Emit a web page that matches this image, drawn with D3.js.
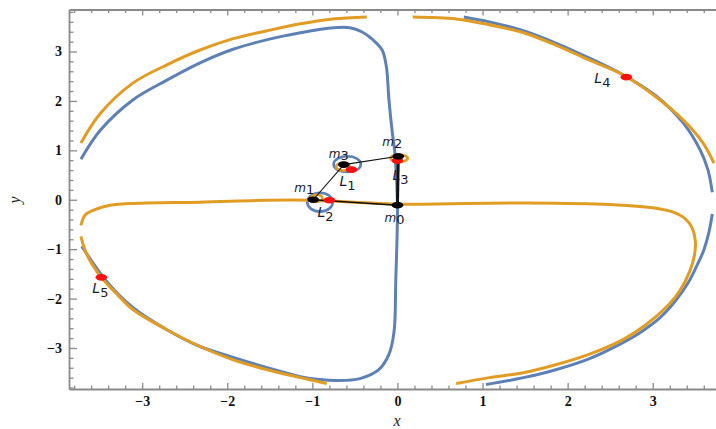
<!DOCTYPE html>
<html><head><meta charset="utf-8">
<script src="https://cdn.jsdelivr.net/npm/d3@7"></script>
<style>body{margin:0;background:#fff}svg{display:block}</style>
</head><body><svg id="chart" width="716" height="429"></svg>
<script>
// ---- data (x, y) ----
const xTicks = [-3, -2, -1, 0, 1, 2, 3];
const yTicks = [-3, -2, -1, 0, 1, 2, 3];

// blue zero-velocity curve: outer left arc, down through the centre, bottom-left arc
const blueOuter = [
  [-3.72,0.82],[-3.49,1.41],[-3.11,2.02],[-2.71,2.42],[-2.32,2.77],[-1.94,3.04],[-1.53,3.24],
  [-1.14,3.38],[-0.75,3.48],[-0.56,3.48],[-0.42,3.40],[-0.29,3.24],[-0.18,3.03],[-0.13,2.69],
  [-0.10,2.02],[-0.06,1.35],[-0.03,0.94],[0.0,-0.07],[-0.02,-1.65],[-0.04,-2.67],[-0.10,-3.13],
  [-0.22,-3.44],[-0.44,-3.62],[-0.71,-3.66],[-0.91,-3.64],[-1.14,-3.58],[-1.53,-3.40],
  [-1.93,-3.19],[-2.32,-2.97],[-2.71,-2.63],[-3.11,-2.18],[-3.41,-1.67],[-3.71,-0.94]
];
// blue right arc, upper and lower parts (the curve leaves the frame between them)
const blueRightUpper = [
  [0.78,3.70],[1.08,3.60],[1.48,3.42],[1.86,3.17],[2.25,2.87],[2.65,2.53],[3.04,2.10],
  [3.36,1.55],[3.56,1.00],[3.65,0.60],[3.70,0.15]
];
const blueRightLower = [
  [3.70,-0.29],[3.66,-0.66],[3.60,-1.02],[3.52,-1.33],[3.42,-1.67],[3.27,-2.04],[3.09,-2.38],
  [2.85,-2.69],[2.65,-2.89],[2.25,-3.22],[1.86,-3.44],[1.48,-3.60],[1.04,-3.74]
];
// orange curves
const orangeTopLeft = [
  [-3.72,1.15],[-3.49,1.75],[-3.11,2.36],[-2.71,2.73],[-2.32,3.03],[-1.93,3.26],
  [-1.53,3.42],[-1.14,3.56],[-0.76,3.66],[-0.36,3.70]
];
const orangeTopRight = [
  [0.18,3.70],[0.69,3.66],[1.08,3.54],[1.48,3.38],[1.86,3.13],[2.25,2.83],[2.65,2.53],
  [3.04,2.08],[3.36,1.61],[3.59,1.15],[3.72,0.74]
];
const orangeMiddle = [
  [-3.72,-0.52],[-3.67,-0.31],[-3.57,-0.21],[-3.38,-0.11],[-3.02,-0.07],[-2.32,-0.05],
  [-1.53,-0.01],[-1.03,-0.01],[-0.50,-0.05],[0.0,-0.09],[0.30,-0.09],[1.08,-0.07],[1.86,-0.07],
  [2.65,-0.11],[3.04,-0.17],[3.24,-0.25],[3.38,-0.38],[3.46,-0.56],[3.50,-0.82],[3.49,-1.13],
  [3.43,-1.47],[3.32,-1.84],[3.19,-2.12],[2.92,-2.53],[2.65,-2.83],[2.25,-3.13],[1.86,-3.34],
  [1.48,-3.50],[1.08,-3.60],[0.69,-3.72]
];
const orangeBottomLeft = [
  [-3.72,-0.74],[-3.65,-1.11],[-3.49,-1.55],[-3.29,-1.92],[-3.11,-2.22],[-2.71,-2.63],
  [-2.32,-2.97],[-1.93,-3.24],[-1.53,-3.44],[-1.14,-3.60],[-0.83,-3.72]
];
// small closed loops around the primaries: centre and radii
const blueLoops = [
  { cx: -0.59, cy: 0.72, rx: 0.16, ry: 0.16 },
  { cx: -0.91, cy: -0.05, rx: 0.15, ry: 0.19 }
];
const orangeLoops = [
  { cx: 0.02, cy: 0.84, rx: 0.10, ry: 0.07 },
  { cx: -0.64, cy: 0.67, rx: 0.08, ry: 0.08 },
  { cx: -0.95, cy: 0.03, rx: 0.07, ry: 0.07 }
];
// primaries and equilibrium points
const masses = [
  { id: "0", x: 0.0, y: -0.11 },
  { id: "1", x: -0.99, y: 0.0 },
  { id: "2", x: 0.01, y: 0.88 },
  { id: "3", x: -0.63, y: 0.71 }
];
const libPoints = [
  { id: "1", x: -0.54, y: 0.61 },
  { id: "2", x: -0.80, y: -0.01 },
  { id: "3", x: 0.0, y: 0.79 },
  { id: "4", x: 2.69, y: 2.48 },
  { id: "5", x: -3.48, y: -1.57 }
];
const links = [["1","0"],["1","3"],["3","2"],["2","0"]];

(function draw() {
  const svg = d3.select("#chart");
  const pL = 69, pR = 725.9, pT = 9.5, pB = 389;
  const x = d3.scaleLinear().domain([-3.86, 3.86]).range([pL, pR]);
  const y = d3.scaleLinear().domain([-3.83, 3.85]).range([pB, pT]);
  const blue = "#5e81b5", orange = "#e19c24";

  svg.append("defs").append("clipPath").attr("id", "plot")
    .append("rect").attr("x", pL).attr("y", pT)
    .attr("width", pR - pL).attr("height", pB - pT);

  const minorX = d3.range(-3.8, 3.81, 0.2).map(v => +v.toFixed(1)).filter(v => !xTicks.includes(v));
  const minorY = d3.range(-3.8, 3.81, 0.2).map(v => +v.toFixed(1)).filter(v => !yTicks.includes(v));
  const fmt = v => (v < 0 ? "\u2212" + Math.abs(v) : String(v));

  function styleAxis(g) {
    g.selectAll("path.domain").attr("stroke", "#8a8a8a").attr("stroke-width", 1.8);
    g.selectAll(".tick line").attr("stroke", "#8a8a8a").attr("stroke-width", 1.3);
    g.selectAll("text").attr("fill", "#111").attr("font-family", "Liberation Serif, serif")
      .attr("font-weight", "bold").attr("font-size", 14);
  }

  // bottom axis
  svg.append("g").attr("transform", `translate(0,${pB})`)
    .call(d3.axisBottom(x).tickValues(xTicks).tickFormat(fmt).tickSize(-6).tickSizeOuter(0).tickPadding(7))
    .call(styleAxis);
  svg.append("g").attr("transform", `translate(0,${pB})`)
    .call(d3.axisBottom(x).tickValues(minorX).tickFormat("").tickSize(-3.5).tickSizeOuter(0))
    .call(g => g.select("path.domain").remove()).call(styleAxis);
  // top frame
  svg.append("g").attr("transform", `translate(0,${pT})`)
    .call(d3.axisTop(x).tickValues(xTicks).tickFormat("").tickSize(-6).tickSizeOuter(0))
    .call(styleAxis);
  svg.append("g").attr("transform", `translate(0,${pT})`)
    .call(d3.axisTop(x).tickValues(minorX).tickFormat("").tickSize(-3.5).tickSizeOuter(0))
    .call(g => g.select("path.domain").remove()).call(styleAxis);
  // left axis
  svg.append("g").attr("transform", `translate(${pL},0)`)
    .call(d3.axisLeft(y).tickValues(yTicks).tickFormat(fmt).tickSize(-8).tickSizeOuter(0).tickPadding(7))
    .call(styleAxis);
  svg.append("g").attr("transform", `translate(${pL},0)`)
    .call(d3.axisLeft(y).tickValues(minorY).tickFormat("").tickSize(-4.5).tickSizeOuter(0))
    .call(g => g.select("path.domain").remove()).call(styleAxis);

  // axis titles
  svg.append("text").attr("x", 397).attr("y", 426).attr("text-anchor", "middle")
    .attr("font-family", "Liberation Serif, serif").attr("font-style", "italic")
    .attr("font-size", 16).attr("fill", "#222").text("x");
  svg.append("text").attr("transform", "translate(20,200) rotate(-90)").attr("text-anchor", "middle")
    .attr("font-family", "Liberation Serif, serif").attr("font-style", "italic")
    .attr("font-size", 16).attr("fill", "#222").text("y");

  // ---- curves ----
  const plot = svg.append("g").attr("clip-path", "url(#plot)");
  const line = d3.line().x(d => x(d[0])).y(d => y(d[1])).curve(d3.curveCatmullRom.alpha(0.5));

  function drawCurve(data, color) {
    plot.append("path").datum(data).attr("d", line).attr("fill", "none")
      .attr("stroke", color).attr("stroke-width", 3).attr("stroke-linecap", "butt")
      .attr("stroke-linejoin", "round");
  }
  function drawLoops(data, color) {
    plot.selectAll(null).data(data).join("ellipse")
      .attr("cx", d => x(d.cx)).attr("cy", d => y(d.cy))
      .attr("rx", d => x(d.cx + d.rx) - x(d.cx)).attr("ry", d => y(d.cy) - y(d.cy + d.ry))
      .attr("fill", "none").attr("stroke", color).attr("stroke-width", 2.6);
  }
  drawCurve(blueOuter, blue);
  drawCurve(blueRightUpper, blue);
  drawCurve(blueRightLower, blue);
  drawLoops(blueLoops, blue);
  drawCurve(orangeTopLeft, orange);
  drawCurve(orangeTopRight, orange);
  drawCurve(orangeMiddle, orange);
  drawCurve(orangeBottomLeft, orange);
  drawLoops(orangeLoops, orange);

  // ---- configuration of the primaries ----
  const byId = Object.fromEntries(masses.map(m => [m.id, m]));
  const linkWidth = { "1-0": 1.6, "1-3": 1.1, "3-2": 1.2, "2-0": 3 };
  plot.selectAll(null).data(links).join("line")
    .attr("x1", d => x(byId[d[0]].x)).attr("y1", d => y(byId[d[0]].y))
    .attr("x2", d => x(byId[d[1]].x)).attr("y2", d => y(byId[d[1]].y))
    .attr("stroke", "#111").attr("stroke-width", d => linkWidth[d.join("-")]);

  const dotR = 0.068;
  plot.selectAll(null).data(libPoints).join("ellipse")
    .attr("cx", d => x(d.x)).attr("cy", d => y(d.y))
    .attr("rx", x(dotR) - x(0)).attr("ry", y(0) - y(dotR))
    .attr("fill", "#ff1010");
  plot.selectAll(null).data(masses).join("ellipse")
    .attr("cx", d => x(d.x)).attr("cy", d => y(d.y))
    .attr("rx", x(dotR) - x(0)).attr("ry", y(0) - y(dotR))
    .attr("fill", "#000");

  // ---- labels ----
  const massOffset = { "0": [-13, 17], "1": [-19, -8], "2": [-16, -10], "3": [-15, -7] };
  const libOffset = { "1": [-12, 16], "2": [-12, 17], "3": [-5, 19], "4": [-32, 6], "5": [-9, 16] };

  function label(px, py, base, sub, size, subSize, shift) {
    const t = svg.append("text").attr("x", px).attr("y", py)
      .attr("font-family", "DejaVu Sans, sans-serif").attr("font-size", size).attr("fill", "#1a1a2e");
    t.append("tspan").attr("font-style", "italic").text(base);
    t.append("tspan").attr("dy", shift).attr("font-size", subSize).text(sub);
  }
  masses.forEach(m => {
    const o = massOffset[m.id];
    label(x(m.x) + o[0], y(m.y) + o[1], "m", m.id, 12, 13, 2);
  });
  libPoints.forEach(p => {
    const o = libOffset[p.id];
    label(x(p.x) + o[0], y(p.y) + o[1], "L", p.id, 14, 13, 4);
  });
})();
</script>
</body></html>
